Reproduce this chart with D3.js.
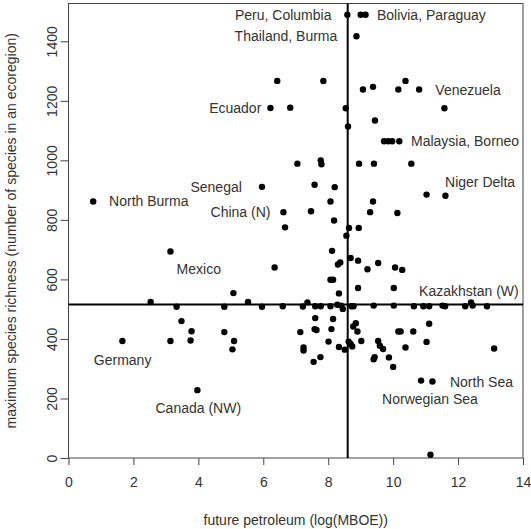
<!DOCTYPE html>
<html lang="en">
<head>
    <meta charset="UTF-8">
    <title>Petroleum vs species richness</title>
    <style>
        body { margin: 0; background: #fff; }
        text { font-family: "Liberation Sans", Arial, sans-serif; fill: #333; }
        .axis path { display: none; }
        .axis line { stroke: #444; }
        .axis text { font-size: 14px; }
    </style>
</head>
<body>
    <div id="chart"></div>

    <script src="https://d3js.org/d3.v7.min.js"></script>
    <script>
        // future petroleum (log MBOE) and max species richness, one entry per ecoregion
        const petroleum = [
            8.59, 9.0, 9.15, 8.87, 6.43, 7.85, 9.07, 9.38, 10.16, 10.38,
            10.8, 11.58, 6.22, 6.83, 8.54, 9.44, 8.61, 9.72, 9.85, 9.97,
            10.19, 7.05, 7.77, 7.79, 8.95, 9.41, 10.56, 5.96, 7.58, 8.2,
            11.03, 11.61, 0.76, 8.07, 9.38, 6.62, 7.47, 9.29, 10.13, 8.18,
            6.67, 8.64, 8.94, 8.56, 3.14, 8.12, 6.35, 8.3, 8.37, 8.69,
            8.92, 9.21, 9.54, 10.06, 10.28, 8.07, 8.15, 8.33, 8.92, 10.02,
            5.08, 2.53, 3.33, 4.8, 5.53, 5.96, 6.6, 7.22, 7.36, 7.6,
            7.77, 8.07, 8.28, 8.4, 8.45, 8.71, 8.78, 9.4, 10.02, 10.64,
            10.93, 11.11, 11.52, 11.6, 12.22, 12.4, 12.45, 12.89, 3.48, 3.79,
            3.76, 3.14, 1.66, 3.97, 4.8, 5.1, 5.05, 7.6, 8.15, 8.85,
            8.77, 8.9, 7.58, 7.64, 7.14, 8.1, 10.16, 10.23, 10.62, 11.11,
            8.01, 8.63, 8.69, 9.02, 9.54, 9.59, 9.69, 11.03, 8.33, 8.51,
            8.74, 7.24, 7.24, 10.38, 13.11, 7.76, 7.55, 9.4, 9.43, 9.87,
            10.0, 10.86, 11.21, 11.15
        ];
        const richness = [
            1489, 1489, 1489, 1417, 1267, 1267, 1238, 1247, 1238, 1267,
            1238, 1175, 1176, 1177, 1175, 1134, 1114, 1064, 1064, 1064,
            1064, 989, 1000, 987, 989, 989, 989, 911, 918, 910,
            885, 881, 862, 862, 862, 826, 829, 826, 823, 798,
            775, 773, 773, 747, 694, 696, 640, 650, 657, 672,
            663, 634, 655, 640, 632, 599, 599, 553, 571, 571,
            554, 524, 508, 508, 524, 508, 510, 509, 523, 510,
            510, 510, 515, 512, 501, 510, 510, 512, 512, 510,
            510, 510, 512, 510, 510, 523, 512, 510, 460, 426,
            395, 393, 393, 228, 423, 393, 365, 470, 467, 453,
            442, 425, 433, 430, 423, 433, 425, 425, 425, 451,
            391, 391, 383, 393, 393, 377, 366, 390, 373, 364,
            375, 371, 361, 371, 368, 339, 323, 332, 339, 338,
            306, 260, 257, 11
        ];

        // reference lines (medians)
        const medianPetroleum = 8.6;
        const medianRichness = 516;

        // region labels
        const labelNames = ["Peru, Columbia", "Bolivia, Paraguay", "Thailand, Burma", "Ecuador",
            "Venezuela", "Malaysia, Borneo", "Senegal", "Niger Delta", "North Burma", "China (N)",
            "Mexico", "Kazakhstan (W)", "Germany", "North Sea", "Norwegian Sea", "Canada (NW)"];
        const labelX = [8.1, 9.5, 8.28, 5.94, 11.3, 10.55, 5.34, 11.6, 1.25, 6.22,
            3.33, 10.8, 0.78, 11.75, 9.66, 2.68];
        const labelY = [1487, 1487, 1417, 1176, 1236, 1064, 911, 928, 862, 826,
            636, 560, 329, 256, 197, 169];
        const labelAnchor = ["end", "start", "end", "end", "start", "start", "end", "start", "start", "end",
            "start", "start", "start", "start", "start", "start"];

        const xTicks = [0, 2, 4, 6, 8, 10, 12, 14];
        const yTicks = [0, 200, 400, 600, 800, 1000, 1200, 1400];

        const width = 531;
        const height = 529;
        const margin = { top: 3.5, right: 8, bottom: 71, left: 68.5 };

        const svg = d3.select("#chart").append("svg")
            .attr("width", width)
            .attr("height", height);

        const x = d3.scaleLinear()
            .domain([0, 14])
            .range([margin.left, width - margin.right]);

        const y = d3.scaleLinear()
            .domain([0, 1527])
            .range([height - margin.bottom, margin.top]);

        // axes
        svg.append("g")
            .attr("class", "axis")
            .attr("transform", `translate(0,${height - margin.bottom})`)
            .call(d3.axisBottom(x).tickValues(xTicks).tickSize(7).tickPadding(12).tickFormat(d3.format("d")));

        const yAxis = svg.append("g")
            .attr("class", "axis")
            .attr("transform", `translate(${margin.left},0)`)
            .call(d3.axisLeft(y).tickValues(yTicks).tickSize(8).tickFormat(d3.format("d")));

        yAxis.selectAll(".tick text")
            .attr("text-anchor", "middle")
            .attr("dy", null)
            .attr("dominant-baseline", "central")
            .attr("transform", "translate(-17,0) rotate(-90)")
            .attr("x", 0);

        // plot box
        svg.append("rect")
            .attr("x", x(0))
            .attr("y", y(1527))
            .attr("width", x(14) - x(0))
            .attr("height", y(0) - y(1527))
            .attr("fill", "none")
            .attr("stroke", "#444")
            .attr("stroke-width", 1);

        // median lines
        svg.append("line")
            .attr("x1", x(medianPetroleum)).attr("x2", x(medianPetroleum))
            .attr("y1", y(0)).attr("y2", y(1527))
            .attr("stroke", "#000").attr("stroke-width", 2);

        svg.append("line")
            .attr("x1", x(0)).attr("x2", x(14))
            .attr("y1", y(medianRichness)).attr("y2", y(medianRichness))
            .attr("stroke", "#000").attr("stroke-width", 2);

        // points
        svg.append("g").selectAll("circle")
            .data(d3.range(petroleum.length))
            .enter().append("circle")
            .attr("cx", i => x(petroleum[i]))
            .attr("cy", i => y(richness[i]))
            .attr("r", 3.2)
            .attr("fill", "#000");

        // labels
        svg.append("g").selectAll("text")
            .data(labelNames)
            .enter().append("text")
            .attr("x", (d, i) => x(labelX[i]))
            .attr("y", (d, i) => y(labelY[i]))
            .attr("text-anchor", (d, i) => labelAnchor[i])
            .attr("dominant-baseline", "central")
            .attr("font-size", "14px")
            .text(d => d);

        // axis titles
        svg.append("text")
            .attr("x", (x(0) + x(14)) / 2)
            .attr("y", 520)
            .attr("text-anchor", "middle")
            .attr("dominant-baseline", "central")
            .attr("font-size", "14px")
            .text("future petroleum (log(MBOE))");

        svg.append("text")
            .attr("transform", `translate(11,${(y(0) + y(1527)) / 2}) rotate(-90)`)
            .attr("text-anchor", "middle")
            .attr("dominant-baseline", "central")
            .attr("font-size", "14px")
            .text("maximum species richness (number of species in an ecoregion)");
    </script>
</body>
</html>
